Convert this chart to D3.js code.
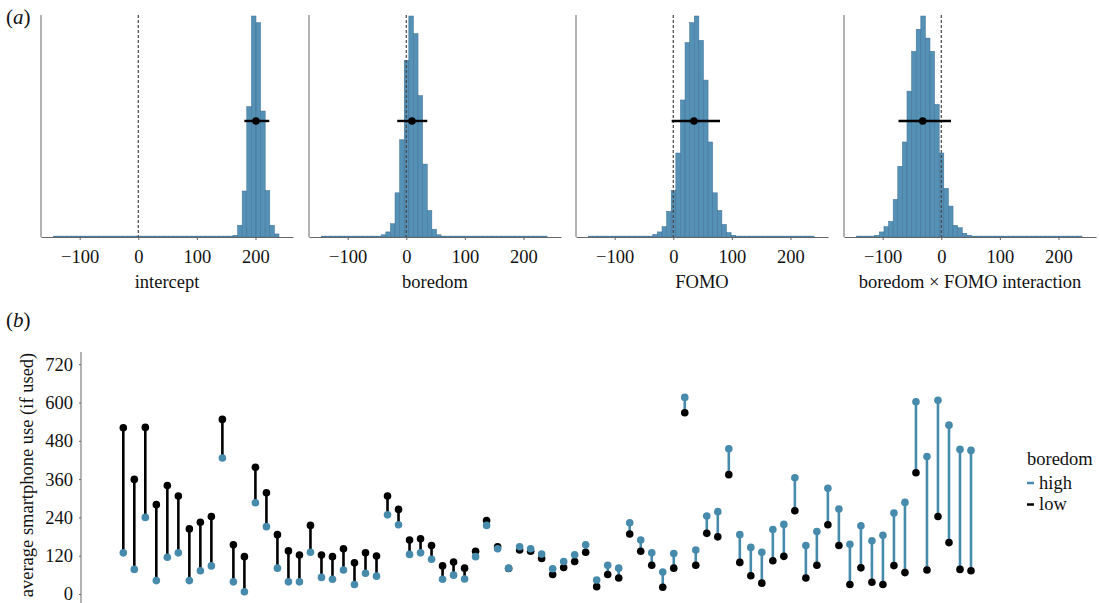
<!DOCTYPE html>
<html><head><meta charset="utf-8">
<script src="https://cdn.jsdelivr.net/npm/d3@7"></script>
<style>
body{margin:0;background:#fff}
svg text{font-family:"Liberation Serif","Times New Roman",serif;fill:#111}
</style>
</head><body>
<svg id="c" width="1099" height="603"></svg>
<script>
// ---------- data: panel (a) posterior histograms ----------
const panelNames = ["intercept", "boredom", "FOMO", "boredom \u00d7 FOMO interaction"];
const binStart = -145, binWidth = 7.86;   // 49 bins
const histIntercept = [0.4,0.4,0.4,0.4,0.4,0.4,0.4,0.4,0.4,0.4,0.4,0.4,0.4,0.4,0.4,0.4,0.4,0.4,0.4,0.4,
  0.4,0.4,0.4,0.4,0.4,0.4,0.4,0.4,0.4,0.4,0.4,0.4,0.4,0.4,0.4,0.4,0.4,0.4,0.4,
  0.8,5.3,20.8,59,100,97,57,21,5.3,1.4];
const histBoredom = [0.4,0.4,0.4,0.4,0.4,0.4,0.4,0.4,0.4,0.4,0.4,0.4,0.4,
  1,2.3,6,20,44,80,100,92,64,33,12,3.5,1,
  0.4,0.4,0.4,0.4,0.4,0.4,0.4,0.4,0.4,0.4,0.4,0.4,0.4,0.4,0.4,0.4,0.4,0.4,0.4,0.4,0.4,0.4,0.4];
const histFOMO = [0.4,0.4,0.4,0.4,0.4,0.4,0.4,0.4,0.4,0.4,0.4,0.4,0.4,0.4,
  1.2,2.3,4.7,11.6,21,38,62,88,97,100,89,71,43,20,12,5.7,2,0.8,
  0.4,0.4,0.4,0.4,0.4,0.4,0.4,0.4,0.4,0.4,0.4,0.4,0.4,0.4,0.4,0.4,0.4];
const histInteraction = [0.4,0.4,0.4,0.4,
  0.8,2.3,4.7,7.1,17,32,43,66,84,94,100,90,84,60,38,22,14,5.3,4.2,1.7,0.8,
  0.4,0.4,0.4,0.4,0.4,0.4,0.4,0.4,0.4,0.4,0.4,0.4,0.4,0.4,0.4,0.4,0.4,0.4,0.4,0.4,0.4,0.4,0.4,0.4];
const intervalMid = [200.8, 9.7, 35.3, -31.7];
const intervalLo  = [181, -15.4, -2.7, -73];
const intervalHi  = [223.5, 35.8, 79.7, 16.6];
const intervalLevel = 52.5;
const xTicksA = [-100, 0, 100, 200];

// ---------- data: panel (b) per-participant averages ----------
const participants = d3.range(1, 79);
const useLow  = [521,359,522,280,340,307,204,225,243,547,154,117,397,317,186,135,122,215,122,117,
  142,98,129,119,307,265,169,173,152,88,100,81,134,230,148,80,138,134,111,61,
  83,102,131,23,61,50,188,134,90,21,81,568,90,190,179,374,99,57,34,104,
  118,261,50,90,217,152,30,82,37,30,89,67,380,75,243,161,77,73];
const useHigh = [129,77,240,42,115,129,42,73,88,426,38,7,286,211,81,38,38,131,52,46,
  75,30,65,56,248,217,124,129,109,46,59,47,117,215,142,81,148,142,125,79,
  102,123,154,44,90,81,223,169,129,69,127,616,138,244,258,455,186,146,131,202,
  218,364,152,196,331,266,156,214,167,184,254,287,602,431,607,529,453,450];
const yTicksB = [0, 120, 240, 360, 480, 600, 720];
const legendLevels = ["high", "low"];

// ---------- style ----------
const BLUE = "#468aac", BAR = "#5590b5", BAR_EDGE = "#3e7197", AXIS = "#666", FS = 18.5;

const svg = d3.select("#c");
const hists = [histIntercept, histBoredom, histFOMO, histInteraction];
const panelX0 = [41, 309, 576, 844], panelW = 252;
const yA = d3.scaleLinear([0, 100], [237, 16]);

hists.forEach((h, i) => {
  const g = svg.append("g");
  const x = d3.scaleLinear([-166, 264], [panelX0[i], panelX0[i] + panelW]);
  const bins = h.map((v, k) => ({lo: binStart + k * binWidth, hi: binStart + (k + 1) * binWidth, v}));
  g.selectAll("rect").data(bins).join("rect")
    .attr("x", d => x(d.lo)).attr("width", d => x(d.hi) - x(d.lo))
    .attr("y", d => yA(d.v)).attr("height", d => yA(0) - yA(d.v))
    .attr("fill", BAR).attr("stroke", BAR_EDGE).attr("stroke-width", 0.5);
  // zero reference
  g.append("line").attr("x1", x(0)).attr("x2", x(0)).attr("y1", yA(100) - 1).attr("y2", yA(0))
    .attr("stroke", "#444").attr("stroke-width", 1.2).attr("stroke-dasharray", "3,2");
  // interval
  g.append("line").attr("x1", x(intervalLo[i])).attr("x2", x(intervalHi[i]))
    .attr("y1", yA(intervalLevel)).attr("y2", yA(intervalLevel))
    .attr("stroke", "#000").attr("stroke-width", 2.4);
  g.append("circle").attr("cx", x(intervalMid[i])).attr("cy", yA(intervalLevel)).attr("r", 3.8).attr("fill", "#000");
  // axes
  const ax = g.append("g").attr("transform", `translate(0,${yA(0)})`)
    .call(d3.axisBottom(x).tickValues(xTicksA).tickSize(3).tickSizeOuter(0).tickPadding(10));
  ax.selectAll("path,line").attr("stroke", AXIS);
  ax.selectAll("text").attr("font-size", FS).attr("font-family", "Liberation Serif").attr("fill", "#111");
  g.append("line").attr("x1", panelX0[i]).attr("x2", panelX0[i]).attr("y1", 15).attr("y2", yA(0))
    .attr("stroke", AXIS).attr("stroke-width", 1);
  g.append("text").attr("x", panelX0[i] + panelW / 2).attr("y", 288).attr("text-anchor", "middle")
    .attr("font-size", FS).text(panelNames[i]);
});

function panelLabel(letter, y) {
  const t = svg.append("text").attr("x", 6).attr("y", y).attr("font-size", 21);
  t.append("tspan").text("(");
  t.append("tspan").attr("font-style", "italic").text(letter);
  t.append("tspan").text(")");
}
panelLabel("a", 24);
panelLabel("b", 327);

// ---------- panel (b) ----------
const xB = d3.scalePoint(participants, [123.3, 971]);
const yB = d3.scaleLinear([0, 720], [594, 364.2]);
const gb = svg.append("g");
const rows = participants.map((p, i) => ({p, lo: useLow[i], hi: useHigh[i]}));
gb.selectAll("line.seg").data(rows).join("line").attr("class", "seg")
  .attr("x1", d => xB(d.p)).attr("x2", d => xB(d.p))
  .attr("y1", d => yB(d.lo)).attr("y2", d => yB(d.hi))
  .attr("stroke", d => d.lo > d.hi ? "#000" : BLUE).attr("stroke-width", 2.6);
gb.selectAll("circle.lo").data(rows).join("circle").attr("class", "lo")
  .attr("cx", d => xB(d.p)).attr("cy", d => yB(d.lo)).attr("r", 3.8).attr("fill", "#000");
gb.selectAll("circle.hi").data(rows).join("circle").attr("class", "hi")
  .attr("cx", d => xB(d.p)).attr("cy", d => yB(d.hi)).attr("r", 3.8).attr("fill", BLUE);

const ayb = gb.append("g").attr("transform", "translate(81,0)")
  .call(d3.axisLeft(yB).tickValues(yTicksB).tickFormat(d3.format("d")).tickSize(2).tickPadding(6));
ayb.select(".domain").remove();
ayb.selectAll("line").attr("stroke", AXIS);
ayb.selectAll("text").attr("font-size", FS).attr("font-family", "Liberation Serif").attr("fill", "#111");
gb.append("line").attr("x1", 81).attr("x2", 81).attr("y1", yB(758)).attr("y2", yB(-30))
  .attr("stroke", AXIS).attr("stroke-width", 1);
gb.append("text").attr("transform", "translate(33,475) rotate(-90)").attr("text-anchor", "middle")
  .attr("font-size", FS).text("average smartphone use (if used)");

// legend
const lg = svg.append("g").attr("transform", "translate(1027,0)");
lg.append("text").attr("x", 0).attr("y", 465).attr("font-size", FS).text("boredom");
legendLevels.forEach((lv, i) => {
  const yy = 483 + i * 21.5;
  lg.append("line").attr("x1", 0).attr("x2", 7).attr("y1", yy).attr("y2", yy)
    .attr("stroke", lv === "high" ? BLUE : "#000").attr("stroke-width", 2.5);
  lg.append("text").attr("x", 12).attr("y", yy + 5.5).attr("font-size", FS).text(lv);
});
</script>
</body></html>
